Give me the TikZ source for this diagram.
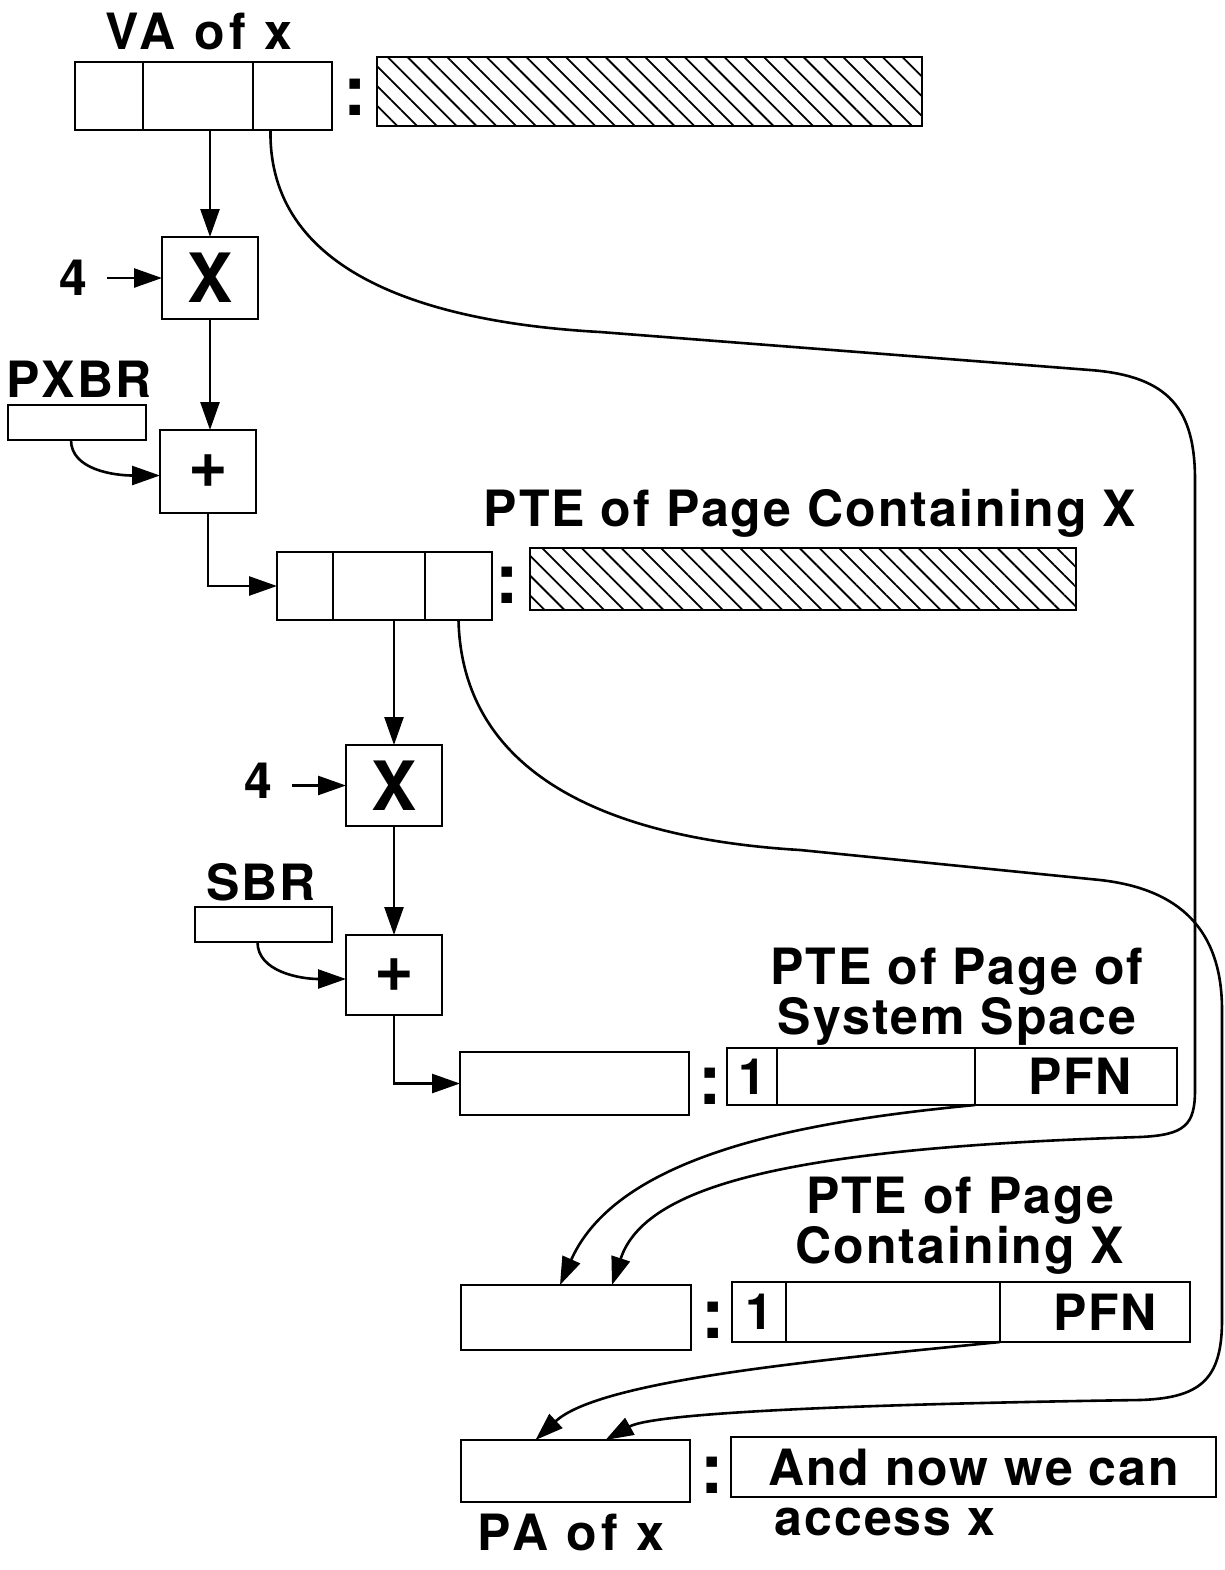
\documentclass[tikz,border=0pt]{standalone}
\usepackage{fontspec}
\setmainfont{TeX Gyre Heros}
\newfontfamily\lab{TeX Gyre Heros}[LetterSpace=4]
\newfontfamily\labwide{TeX Gyre Heros}[LetterSpace=9]
\usetikzlibrary{arrows.meta,patterns.meta,calc}
\begin{document}
\begin{tikzpicture}[x=0.5pt,y=-0.5pt,
  box/.style={draw,line width=1.3pt,inner sep=0pt,outer sep=0pt},
  hatchbox/.style={box,pattern={Lines[angle=-45,distance=7pt,line width=0.9pt]}},
  lbl/.style={font=\lab\bfseries\fontsize{25}{21.5}\selectfont,inner sep=0pt,align=center},
  wlbl/.style={lbl,font=\labwide\bfseries\fontsize{25}{21.5}\selectfont},
  big/.style={font=\bfseries\fontsize{34}{34}\selectfont,inner sep=0pt},
  colon/.style={font=\bfseries\fontsize{35}{35}\selectfont,inner sep=0pt,anchor=base},
  arr/.style={line width=1.3pt,-{Triangle[length=14pt,width=9.5pt]}},
]
\useasboundingbox (0,0) rectangle (1225,1570);

% ---- VA of x
\node[wlbl,anchor=base] (vat) at (199,49) {VA of x};
\node[box,minimum width=34pt,minimum height=34pt] (va1) at (109,96) {};
\node[box,minimum width=55pt,minimum height=34pt] (va2) at (198,96) {};
\node[box,minimum width=39.5pt,minimum height=34pt] (va3) at (292.5,96) {};
\node[colon] (c1) at (355,115) {:};
\node[hatchbox,minimum width=272.5pt,minimum height=34.5pt] (h1) at (649.5,91.5) {};

% ---- first multiply / add
\node[box,minimum width=48pt,minimum height=41pt,big] (xa) at (210,278) {X};
\node[lbl,anchor=base] (fa) at (73,295) {4};
\node[lbl,anchor=base] (pxt) at (79,397) {PXBR};
\node[box,minimum width=69pt,minimum height=17.5pt] (pxb) at (77,422.5) {};
\node[box,minimum width=48pt,minimum height=41.5pt,big] (pa) at (208,471.5) {+};

% ---- PTE of page containing X
\node[lbl,anchor=base] (ptet) at (810,526) {PTE of Page Containing X};
\node[box,minimum width=28pt,minimum height=34pt] (pte1) at (305,586) {};
\node[box,minimum width=46pt,minimum height=34pt] (pte2) at (379,586) {};
\node[box,minimum width=33.5pt,minimum height=34pt] (pte3) at (458.5,586) {};
\node[colon] (c2) at (507,603) {:};
\node[hatchbox,minimum width=273pt,minimum height=31pt] (h2) at (803,579) {};

% ---- second multiply / add
\node[box,minimum width=48pt,minimum height=40.5pt,big] (xb) at (394,785.5) {X};
\node[lbl,anchor=base] (fb) at (258,798) {4};
\node[lbl,anchor=base] (sbt) at (261,900) {SBR};
\node[box,minimum width=68.5pt,minimum height=17.5pt] (sbb) at (263.5,924.5) {};
\node[box,minimum width=48pt,minimum height=40pt,big] (pb) at (394,975) {+};

% ---- row 1
\node[lbl] (r1t) at (957,997) {PTE of Page of\\System Space};
\node[box,minimum width=114.5pt,minimum height=31.5pt] (r1l) at (574.5,1083.5) {};
\node[colon] (c3) at (710,1104) {:};
\node[box,minimum width=25pt,minimum height=28.5pt,lbl] (r1a) at (752,1076.5) {1};
\node[box,minimum width=99pt,minimum height=28.5pt] (r1b) at (876,1076.5) {};
\node[box,minimum width=101pt,minimum height=28.5pt,lbl] (r1c) at (1076,1076.5) {\hspace{4pt}PFN};

% ---- row 2
\node[lbl] (r2t) at (960,1226) {PTE of Page\\Containing X};
\node[box,minimum width=115pt,minimum height=32.5pt] (r2l) at (576,1317.5) {};
\node[colon] (c4) at (713,1338) {:};
\node[box,minimum width=27pt,minimum height=30pt,lbl] (r2a) at (759,1312) {1};
\node[box,minimum width=107pt,minimum height=30pt] (r2b) at (893,1312) {};
\node[box,minimum width=95pt,minimum height=30pt,lbl] (r2c) at (1095,1312) {\hspace{10pt}PFN};

% ---- row 3
\node[box,minimum width=114.5pt,minimum height=31pt] (r3l) at (575.5,1471) {};
\node[colon] (c5) at (712,1493) {:};
\node[box,minimum width=242.5pt,minimum height=30pt,lbl] (r3r) at (973.5,1467) {And now we can};
\node[lbl,anchor=base] (acc) at (885,1535) {access x};
\node[wlbl,anchor=base] (pat) at (571,1550) {PA of x};

% ---- connectors, left chain
\draw[arr] (va2.south -| xa.north) -- (xa.north);
\draw[arr] ([xshift=10pt]fa.east |- xa.west) -- (xa.west);
\draw[arr] (xa.south) -- (xa.south |- pa.north);
\draw[arr] ([xshift=-3pt]pxb.south) .. controls +(0,30) and +(-45,0) .. ([yshift=-2pt]pa.west);
\draw[arr] (pa.south) |- (pte1.west);
\draw[arr] (pte2.south -| xb.north) -- (xb.north);
\draw[arr] ([xshift=10pt]fb.east |- xb.west) -- (xb.west);
\draw[arr] (xb.south) -- (pb.north);
\draw[arr] ([xshift=-3pt]sbb.south) .. controls +(0,30) and +(-45,0) .. ([yshift=-2pt]pb.west);
\draw[arr] (pb.south) |- (r1l.west);

% ---- long curve from VA of x
\draw[arr] ([xshift=-11pt]va3.south) .. controls (268,270) and (420,322) .. (600,332)
  -- (1090,370) .. controls (1170,376) and (1195,410) .. (1195,480)
  -- (1195,1090) .. controls (1195,1125) and (1185,1135) .. (1140,1137)
  .. controls (790,1148) and (645,1185) .. ([xshift=18pt]r2l.north);
% ---- PFN of row 1 to row 2
\draw[arr] (r1c.south west) .. controls (820,1120) and (620,1150) .. ([xshift=-8pt]r2l.north);

% ---- long curve from PTE
\draw[arr] (pte3.south) .. controls (462,770) and (600,838) .. (800,850)
  -- (1100,880) .. controls (1190,890) and (1222,940) .. (1222,1010)
  -- (1222,1320) .. controls (1222,1380) and (1200,1398) .. (1140,1400)
  .. controls (800,1405) and (650,1415) .. ([xshift=15pt]r3l.north);
% ---- PFN of row 2 to row 3
\draw[arr] (r2c.south west) .. controls (820,1360) and (600,1380) .. ([xshift=-20pt]r3l.north);
\end{tikzpicture}
\end{document}
